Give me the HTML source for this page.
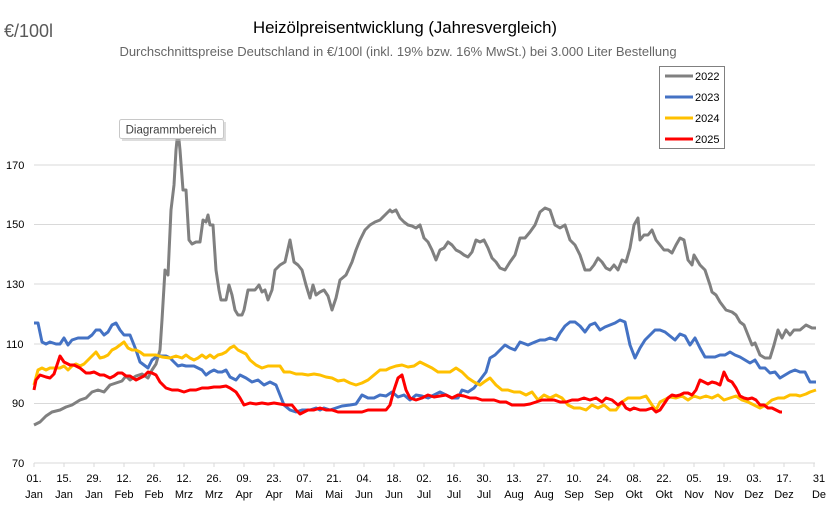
<!DOCTYPE html>
<html><head><meta charset="utf-8"><style>
body{margin:0;background:#fff;}
svg{display:block;font-family:"Liberation Sans",sans-serif;}
</style></head><body>
<svg width="834" height="513" viewBox="0 0 834 513" xmlns="http://www.w3.org/2000/svg">
<rect width="834" height="513" fill="#fff"/>
<text x="4" y="37" font-size="18" fill="#595959">€/100l</text>
<text x="405" y="33" font-size="16.8" fill="#000" text-anchor="middle">Heizölpreisentwicklung (Jahresvergleich)</text>
<text x="398" y="56" font-size="13" fill="#666" text-anchor="middle">Durchschnittspreise Deutschland in €/100l (inkl. 19% bzw. 16%  MwSt.) bei 3.000 Liter Bestellung</text>
<g stroke="#d9d9d9" stroke-width="1">
<line x1="34" y1="165" x2="815" y2="165"/>
<line x1="34" y1="224.5" x2="815" y2="224.5"/>
<line x1="34" y1="284" x2="815" y2="284"/>
<line x1="34" y1="344" x2="815" y2="344"/>
<line x1="34" y1="403.5" x2="815" y2="403.5"/>
<line x1="34" y1="463" x2="815" y2="463"/>
</g>
<g font-size="11" fill="#000">
<text x="6" y="169">170</text><text x="6" y="228">150</text><text x="6" y="288">130</text>
<text x="6" y="348">110</text><text x="12" y="407">90</text><text x="12" y="467">70</text>
</g>
<g stroke="#d9d9d9"><path d="M34 463v4M64 463v4M94 463v4M124 463v4M154 463v4M184 463v4M214 463v4M244 463v4M274 463v4M304 463v4M334 463v4M364 463v4M394 463v4M424 463v4M454 463v4M484 463v4M514 463v4M544 463v4M574 463v4M604 463v4M634 463v4M664 463v4M694 463v4M724 463v4M754 463v4M784 463v4M814 463v4"/></g>
<g font-size="11" fill="#000" text-anchor="middle">
<text x="34" y="482">01.</text><text x="34" y="498">Jan</text>
<text x="64" y="482">15.</text><text x="64" y="498">Jan</text>
<text x="94" y="482">29.</text><text x="94" y="498">Jan</text>
<text x="124" y="482">12.</text><text x="124" y="498">Feb</text>
<text x="154" y="482">26.</text><text x="154" y="498">Feb</text>
<text x="184" y="482">12.</text><text x="184" y="498">Mrz</text>
<text x="214" y="482">26.</text><text x="214" y="498">Mrz</text>
<text x="244" y="482">09.</text><text x="244" y="498">Apr</text>
<text x="274" y="482">23.</text><text x="274" y="498">Apr</text>
<text x="304" y="482">07.</text><text x="304" y="498">Mai</text>
<text x="334" y="482">21.</text><text x="334" y="498">Mai</text>
<text x="364" y="482">04.</text><text x="364" y="498">Jun</text>
<text x="394" y="482">18.</text><text x="394" y="498">Jun</text>
<text x="424" y="482">02.</text><text x="424" y="498">Jul</text>
<text x="454" y="482">16.</text><text x="454" y="498">Jul</text>
<text x="484" y="482">30.</text><text x="484" y="498">Jul</text>
<text x="514" y="482">13.</text><text x="514" y="498">Aug</text>
<text x="544" y="482">27.</text><text x="544" y="498">Aug</text>
<text x="574" y="482">10.</text><text x="574" y="498">Sep</text>
<text x="604" y="482">24.</text><text x="604" y="498">Sep</text>
<text x="634" y="482">08.</text><text x="634" y="498">Okt</text>
<text x="664" y="482">22.</text><text x="664" y="498">Okt</text>
<text x="694" y="482">05.</text><text x="694" y="498">Nov</text>
<text x="724" y="482">19.</text><text x="724" y="498">Nov</text>
<text x="754" y="482">03.</text><text x="754" y="498">Dez</text>
<text x="784" y="482">17.</text><text x="784" y="498">Dez</text>
<text x="819" y="482">31</text><text x="819" y="498">De</text>
</g>
<g fill="none" stroke-width="3" stroke-linejoin="round">
<polyline stroke="#808080" points="34,425 40,422 46,416 52,412 60,410 66,407 72,405 80,400 86,398 92,392 98,390 104,392 110,385 116,383 122,381 126,376 130,380 136,376 142,374 148,378 152,370 156,364 160,350 162,320 165,270 168,275 171,210 174,185 176,150 178,130 180,150 183,190 186,190 189,240 192,244 196,242 200,242 203,220 206,222 208,215 210,225 213,225 216,270 219,290 221,300 226,300 229,285 232,295 235,310 238,315 242,315 244,310 248,290 252,290 255,290 259,285 262,292 265,290 268,300 272,290 275,270 280,265 285,262 290,240 294,262 298,265 302,270 306,285 310,298 313,285 316,295 320,292 324,290 328,296 332,310 336,298 340,280 346,275 352,262 356,250 360,240 365,230 370,225 375,222 380,220 385,215 390,210 392,212 396,210 400,218 404,222 408,225 412,226 416,228 420,225 424,238 428,242 432,250 436,260 440,250 444,248 448,242 452,245 456,250 460,252 464,255 468,257 472,252 476,240 480,242 484,240 488,248 492,258 496,262 500,268 505,270 510,262 515,255 520,238 525,238 530,232 535,225 540,212 545,208 550,210 555,225 560,228 565,225 570,240 575,245 580,255 585,270 590,270 594,265 598,258 602,262 606,268 610,270 614,265 618,270 622,260 626,262 630,248 634,225 638,218 640,240 644,235 648,235 652,230 656,240 660,245 664,250 668,250 672,253 676,245 680,238 684,240 688,260 692,265 694,255 700,265 705,270 710,285 712,292 716,295 720,302 726,310 732,312 736,315 740,322 744,325 748,335 752,345 755,343 760,355 765,358 770,358 774,345 778,330 782,338 786,330 790,335 794,330 800,330 806,325 812,328 816,328"/>
<polyline stroke="#4472c4" points="34,323 38,323 42,342 46,344 50,342 56,344 60,344 64,338 68,345 72,340 78,338 84,338 88,338 92,335 96,330 100,330 104,335 108,332 112,325 116,323 120,330 124,335 130,335 136,350 140,362 144,365 148,368 152,360 156,357 160,356 166,356 170,358 174,362 178,366 182,365 186,366 190,366 194,366 198,368 202,370 206,375 210,372 214,370 218,372 222,372 226,370 230,377 236,380 240,375 246,378 252,382 258,380 264,385 270,382 276,385 280,395 284,405 290,410 296,412 302,410 310,410 316,408 320,410 324,408 330,410 336,408 342,406 350,405 356,404 362,395 368,398 374,398 380,395 386,396 392,392 398,397 404,395 410,400 416,395 422,396 428,398 434,395 440,392 446,395 452,398 458,398 462,390 468,392 474,388 480,380 486,372 490,358 495,355 500,350 505,345 510,348 515,350 520,342 528,345 535,342 540,340 545,340 550,338 556,340 560,333 565,326 570,322 575,322 580,326 585,332 590,325 595,323 600,330 605,327 610,325 615,323 620,320 625,322 630,345 635,358 640,348 645,340 650,335 655,330 660,330 665,332 670,336 675,340 680,334 685,336 690,345 695,338 700,348 705,357 710,357 715,357 720,355 725,355 730,352 735,355 740,357 745,360 750,363 755,360 760,368 765,368 770,373 775,372 780,378 785,375 790,372 795,370 800,372 805,372 810,382 816,382"/>
<polyline stroke="#ffc000" points="34,385 38,370 42,368 46,370 50,368 56,368 60,368 64,366 68,370 72,366 76,364 80,366 84,364 88,360 92,356 96,352 100,358 104,357 108,355 112,350 116,348 120,345 124,342 128,348 132,350 136,350 140,352 144,355 150,355 156,355 162,357 170,358 176,356 182,358 186,355 190,358 194,360 198,358 202,355 206,358 210,355 214,358 218,355 222,354 226,352 230,348 234,346 238,350 242,352 246,354 250,360 256,365 262,368 268,366 274,366 280,366 284,372 290,372 296,374 302,374 308,375 314,374 320,375 326,377 332,378 338,381 344,380 350,383 356,385 362,383 368,380 374,375 380,370 386,370 390,368 396,366 402,365 408,367 414,366 420,362 426,365 432,368 438,372 444,372 450,372 456,368 462,372 468,378 474,382 480,385 484,382 490,378 496,385 502,390 508,390 514,392 520,392 526,395 532,392 538,400 544,395 550,398 556,395 562,398 568,405 574,408 580,408 586,410 592,405 598,408 604,405 610,410 616,410 622,402 628,398 634,398 640,398 646,396 652,405 656,410 660,402 664,400 670,397 676,398 682,396 688,400 694,396 700,398 706,396 712,398 718,395 724,400 730,398 736,396 742,400 748,402 754,405 760,408 766,405 772,400 778,398 784,398 790,395 796,395 800,396 806,394 810,392 816,390"/>
<polyline stroke="#ff0000" points="34,390 36,380 40,375 46,377 50,378 54,374 58,362 60,356 64,362 70,365 74,365 80,368 86,373 90,373 94,372 100,375 104,375 110,378 114,376 118,373 122,373 126,376 130,376 136,380 140,378 144,376 148,372 152,373 156,375 160,382 166,388 172,390 178,390 184,392 190,390 196,390 202,388 208,388 214,387 220,387 226,386 230,388 236,392 240,398 244,405 250,403 256,404 262,403 268,404 274,403 280,404 286,405 292,405 296,410 300,414 304,412 308,410 314,410 320,408 326,410 332,410 338,412 344,412 350,412 356,412 362,412 368,410 374,410 380,410 386,410 390,405 394,390 398,378 402,375 406,390 410,398 416,400 422,398 428,395 434,397 440,396 446,395 452,398 458,395 464,396 470,398 476,398 482,400 488,400 494,400 500,402 506,402 512,405 518,405 524,405 530,404 536,402 542,400 548,400 554,400 560,402 566,402 572,400 578,400 584,398 590,400 596,398 602,402 606,398 612,400 618,405 622,402 626,408 630,410 634,408 640,410 646,410 652,408 656,412 660,410 664,404 668,398 672,395 676,396 680,395 684,393 688,393 692,395 696,390 700,380 704,382 708,384 712,382 716,383 720,385 724,372 728,380 732,382 736,388 740,396 744,398 748,399 752,398 756,400 760,405 764,405 768,408 772,408 776,410 780,412 782,412"/>
</g>
<rect x="659.5" y="66.5" width="65" height="82" fill="#fff" stroke="#808080"/>
<g stroke-width="3">
<line x1="665" y1="76" x2="693" y2="76" stroke="#808080"/>
<line x1="665" y1="97" x2="693" y2="97" stroke="#4472c4"/>
<line x1="665" y1="118" x2="693" y2="118" stroke="#ffc000"/>
<line x1="665" y1="139" x2="693" y2="139" stroke="#ff0000"/>
</g>
<g font-size="11" fill="#000">
<text x="695" y="80">2022</text><text x="695" y="101">2023</text><text x="695" y="122">2024</text><text x="695" y="143">2025</text>
</g>
<rect x="122" y="122" width="104" height="19" fill="#bbb" opacity="0.5"/>
<rect x="119.5" y="119.5" width="104" height="19" rx="2" fill="#fff" stroke="#c8c8c8"/>
<text x="171" y="133.5" font-size="11.5" fill="#404040" text-anchor="middle">Diagrammbereich</text>
</svg>
</body></html>
